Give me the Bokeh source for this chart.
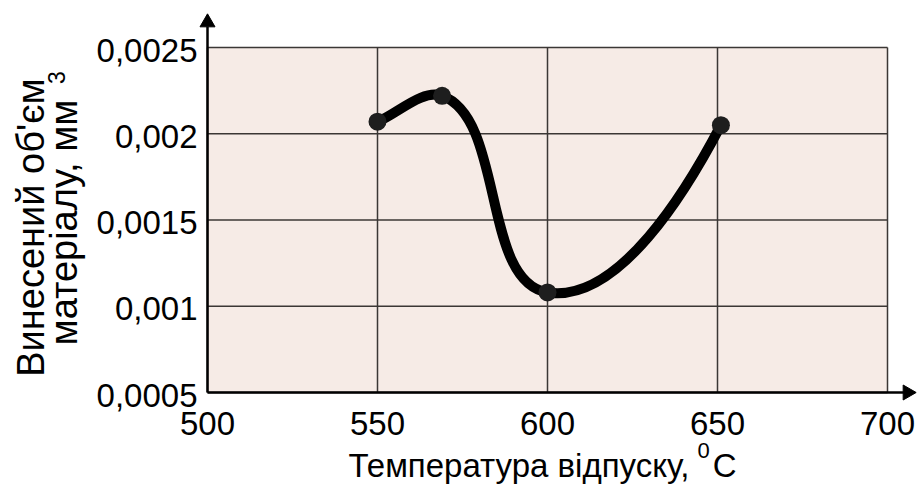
import numpy as np
from bokeh.plotting import figure
from bokeh.models import Range1d
from bokeh.core.properties import value
from bokeh.embed import file_html
from bokeh.resources import INLINE

# ---- data ----
temperature = [550, 569, 600, 651]
volume = [0.00207, 0.00222, 0.00108, 0.00205]
x_ticks = [500, 550, 600, 650, 700]
x_tick_labels = ["500", "550", "600", "650", "700"]
y_ticks = [0.0005, 0.001, 0.0015, 0.002, 0.0025]
y_tick_labels = ["0,0005", "0,001", "0,0015", "0,002", "0,0025"]
x_title = "Температура відпуску,"
x_title_sup = "0"
x_title_unit = "C"
y_title_1 = "Винесений об'єм"
y_title_2 = "матеріалу, мм"
y_title_sup = "3"

FONT = value("Liberation Sans")
X0, X1 = 500, 700
Y0, Y1 = 0.0005, 0.0025
FL, FT, FW, FH = 207, 47, 680, 345      # plot-area box in pixels
W, H = 919, 491
KX = (X1 - X0) / FW
KY = (Y1 - Y0) / FH

def xd(px):
    return X0 + (px - FL) * KX

def yd(py):
    return Y0 + (FT + FH - py) * KY

p = figure(width=W, height=H,
           x_range=Range1d(xd(0), xd(W)), y_range=Range1d(yd(H), yd(0)),
           x_axis_location=None, y_axis_location=None,
           min_border=0, output_backend="svg", toolbar_location=None)
p.grid.visible = False
p.outline_line_color = None
p.background_fill_color = "white"
p.border_fill_color = "white"

GRID = "#3b3735"
# plot area
p.quad(left=[X0], right=[X1], bottom=[Y0], top=[Y1],
       fill_color="#f6ebe6", line_color=None)
# grid lines
p.segment(x0=x_ticks, y0=[Y0] * len(x_ticks), x1=x_ticks, y1=[Y1] * len(x_ticks),
          line_color=GRID, line_width=1.5)
p.segment(x0=[X0] * len(y_ticks), y0=y_ticks, x1=[X1] * len(y_ticks), y1=y_ticks,
          line_color=GRID, line_width=1.5)

# axes with arrows
p.segment(x0=[X0, X0], y0=[Y0, Y0], x1=[X0, xd(905)], y1=[yd(26), Y0],
          line_color="black", line_width=2.5)
p.scatter(x=[X0], y=[yd(22)], marker="triangle", size=15,
          fill_color="black", line_color="black")
p.scatter(x=[xd(907)], y=[Y0], marker="triangle", angle=-np.pi / 2, size=15,
          fill_color="black", line_color="black")

# tick labels
p.text(x=[xd(197)] * len(y_ticks), y=[t - 2.5 * KY for t in y_ticks], text=y_tick_labels,
       text_align="right", text_baseline="middle", text_font=FONT,
       text_font_size="33px", text_color="black")
p.text(x=x_ticks, y=[yd(423)] * len(x_ticks), text=x_tick_labels,
       text_align="center", text_baseline="middle", text_font=FONT,
       text_font_size="33px", text_color="black")

# ---- smooth curve through the points (cubic Bezier, built in pixel space) ----
P = np.column_stack([(np.array(temperature, float) - X0) / KX,
                     (np.array(volume, float) - Y0) / KY])
n = len(P)
unit = lambda v: v / np.linalg.norm(v)
tang = [None] * n
for i in range(1, n - 1):
    tang[i] = unit(unit(P[i] - P[i - 1]) + unit(P[i + 1] - P[i]))
tang[0] = unit(P[1] - P[0])
tang[-1] = unit(3 * unit(P[-1] - P[-2]) - tang[-2])
c0, c1 = [], []
for i in range(n - 1):
    L = np.linalg.norm(P[i + 1] - P[i]) * 0.3
    c0.append(P[i] + tang[i] * L)
    c1.append(P[i + 1] - tang[i + 1] * L)
c0 = np.array(c0)
c1 = np.array(c1)
p.bezier(x0=temperature[:-1], y0=volume[:-1], x1=temperature[1:], y1=volume[1:],
         cx0=X0 + c0[:, 0] * KX, cy0=Y0 + c0[:, 1] * KY,
         cx1=X0 + c1[:, 0] * KX, cy1=Y0 + c1[:, 1] * KY,
         line_color="black", line_width=10)
p.scatter(temperature, volume, size=18, fill_color="#1e1e1e", line_color=None)

# ---- titles ----
p.text(x=[xd(348)], y=[yd(465)], text=[x_title], text_align="left",
       text_baseline="middle", text_font=FONT, text_font_size="33px",
       text_color="black")
p.text(x=[xd(703)], y=[yd(450)], text=[x_title_sup], text_align="center",
       text_baseline="middle", text_font=FONT, text_font_size="22px",
       text_color="black")
p.text(x=[xd(736)], y=[yd(465)], text=[x_title_unit], text_align="right",
       text_baseline="middle", text_font=FONT, text_font_size="33px",
       text_color="black")

p.text(x=[xd(30)], y=[yd(227)], text=[y_title_1], angle=np.pi / 2,
       text_align="center", text_baseline="middle", text_font=FONT,
       text_font_size="38px", text_color="black")
p.text(x=[xd(63)], y=[yd(222)], text=[y_title_2], angle=np.pi / 2,
       text_align="center", text_baseline="middle", text_font=FONT,
       text_font_size="38px", text_color="black")
p.text(x=[xd(56)], y=[yd(77)], text=[y_title_sup], angle=np.pi / 2,
       text_align="center", text_baseline="middle", text_font=FONT,
       text_font_size="23px", text_color="black")

open("out.html", "w").write(file_html(p, INLINE))
